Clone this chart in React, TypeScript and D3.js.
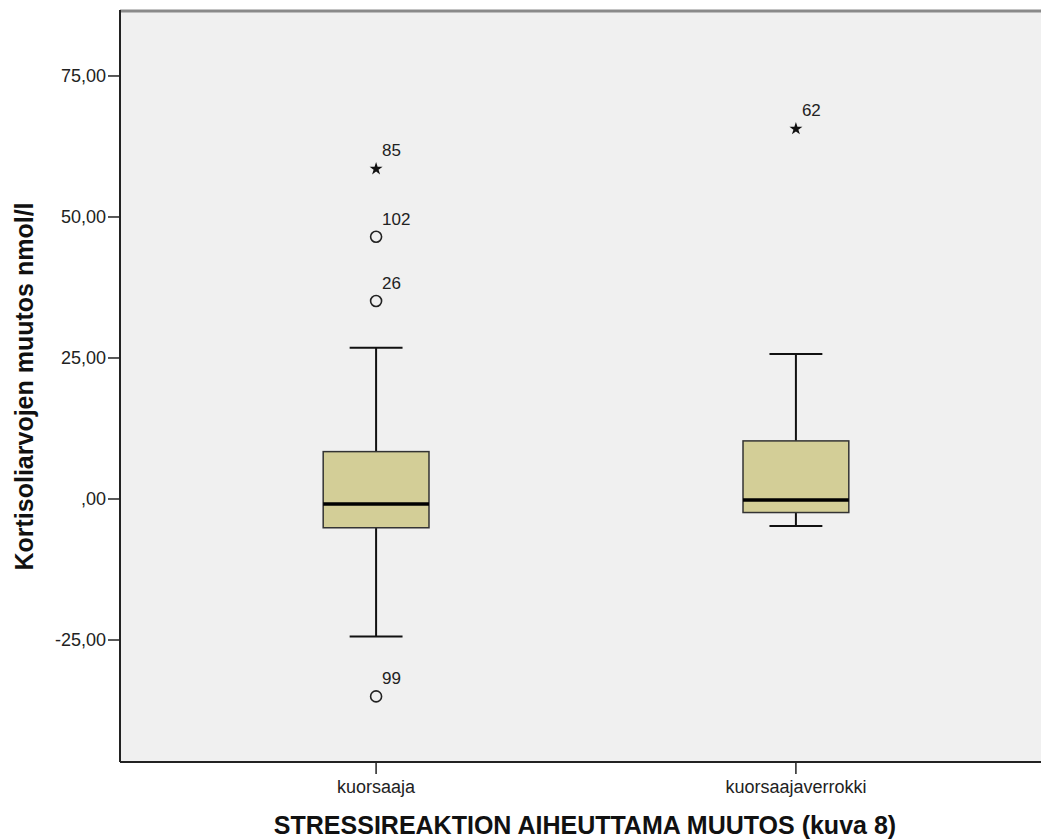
import React from "react";
import * as d3 from "d3";

const categories = ["kuorsaaja", "kuorsaajaverrokki"];
const whiskerLow = [-24.4, -4.8];
const q1 = [-5.1, -2.4];
const median = [-0.9, -0.2];
const q3 = [8.4, 10.3];
const whiskerHigh = [26.8, 25.7];

const outlierGroup = [0, 0, 0, 0, 1];
const outlierValue = [58.7, 46.5, 35.1, -35.0, 65.8];
const outlierId = ["85", "102", "26", "99", "62"];
const outlierExtreme = [true, false, false, false, true];

const yTicks = [-25, 0, 25, 50, 75];

const yTitle = "Kortisoliarvojen muutos nmol/l";
const xTitle = "STRESSIREAKTION AIHEUTTAMA MUUTOS (kuva 8)";

const W = 1041;
const H = 839;
const FONT = "'Liberation Sans', Arial, Helvetica, sans-serif";

const fmt = (v: number) => {
  const s = Math.abs(v).toFixed(2).replace(".", ",");
  const body = s.startsWith("0,") ? s.slice(1) : s;
  return (v < 0 ? "-" : "") + body;
};

export default function App() {
  const left = 120;
  const top = 11;
  const bottom = 762;
  const y = d3.scaleLinear().domain([-46.63, 86.52]).range([bottom, top]);
  const x = d3.scalePoint<string>().domain(categories).range([left, 1052]).padding(0.61);
  const step = x.step();
  const boxW = step * 0.252;
  const capW = boxW / 2;
  const star = d3.symbol().type(d3.symbolStar).size(52)() as string;

  return (
    <svg
      width={W}
      height={H}
      style={{ position: "fixed", left: 0, top: 0, background: "#fff" }}
      fontFamily={FONT}
    >
      <rect x={left} y={top} width={W - left} height={bottom - top} fill="#f0f0f0" />
      <line x1={left} x2={W} y1={top} y2={top} stroke="#8a8a8a" strokeWidth={3} />

      {categories.map((c, i) => {
        const cx = x(c)!;
        return (
          <g key={c}>
            <line x1={cx} x2={cx} y1={y(whiskerHigh[i])} y2={y(q3[i])} stroke="#111" strokeWidth={2} />
            <line x1={cx} x2={cx} y1={y(q1[i])} y2={y(whiskerLow[i])} stroke="#111" strokeWidth={2} />
            <line x1={cx - capW / 2} x2={cx + capW / 2} y1={y(whiskerHigh[i])} y2={y(whiskerHigh[i])} stroke="#111" strokeWidth={2} />
            <line x1={cx - capW / 2} x2={cx + capW / 2} y1={y(whiskerLow[i])} y2={y(whiskerLow[i])} stroke="#111" strokeWidth={2} />
            <rect
              x={cx - boxW / 2}
              y={y(q3[i])}
              width={boxW}
              height={y(q1[i]) - y(q3[i])}
              fill="#d3ce97"
              stroke="#333"
              strokeWidth={1.5}
            />
            <line x1={cx - boxW / 2} x2={cx + boxW / 2} y1={y(median[i])} y2={y(median[i])} stroke="#000" strokeWidth={3.5} />
          </g>
        );
      })}

      {outlierValue.map((v, k) => {
        const cx = x(categories[outlierGroup[k]])!;
        const cy = y(v);
        return (
          <g key={k}>
            {outlierExtreme[k] ? (
              <path d={star} transform={`translate(${cx},${cy + 1})`} fill="#111" />
            ) : (
              <circle cx={cx} cy={cy} r={5.5} fill="none" stroke="#222" strokeWidth={1.6} />
            )}
            <text x={cx + 6} y={cy - 12} fontSize={17} fill="#222">
              {outlierId[k]}
            </text>
          </g>
        );
      })}

      {/* axes */}
      <line x1={left} x2={left} y1={top - 1} y2={bottom} stroke="#222" strokeWidth={2} />
      <line x1={left} x2={W} y1={bottom} y2={bottom} stroke="#222" strokeWidth={2} />
      {yTicks.map((t) => (
        <g key={t}>
          <line x1={left - 12} x2={left} y1={y(t)} y2={y(t)} stroke="#222" strokeWidth={1.5} />
          <text x={left - 14} y={y(t)} dy="0.36em" textAnchor="end" fontSize={18} fill="#222">
            {fmt(t)}
          </text>
        </g>
      ))}
      {categories.map((c) => (
        <g key={c}>
          <line x1={x(c)!} x2={x(c)!} y1={bottom} y2={bottom + 12} stroke="#222" strokeWidth={1.5} />
          <text x={x(c)!} y={bottom + 31} textAnchor="middle" fontSize={18} fill="#222">
            {c}
          </text>
        </g>
      ))}

      <text
        transform={`translate(33,${(top + bottom) / 2}) rotate(-90)`}
        textAnchor="middle"
        fontSize={25}
        fontWeight="bold"
        fill="#111"
      >
        {yTitle}
      </text>
      <text x={585} y={834} textAnchor="middle" fontSize={25} fontWeight="bold" fill="#111">
        {xTitle}
      </text>
    </svg>
  );
}
